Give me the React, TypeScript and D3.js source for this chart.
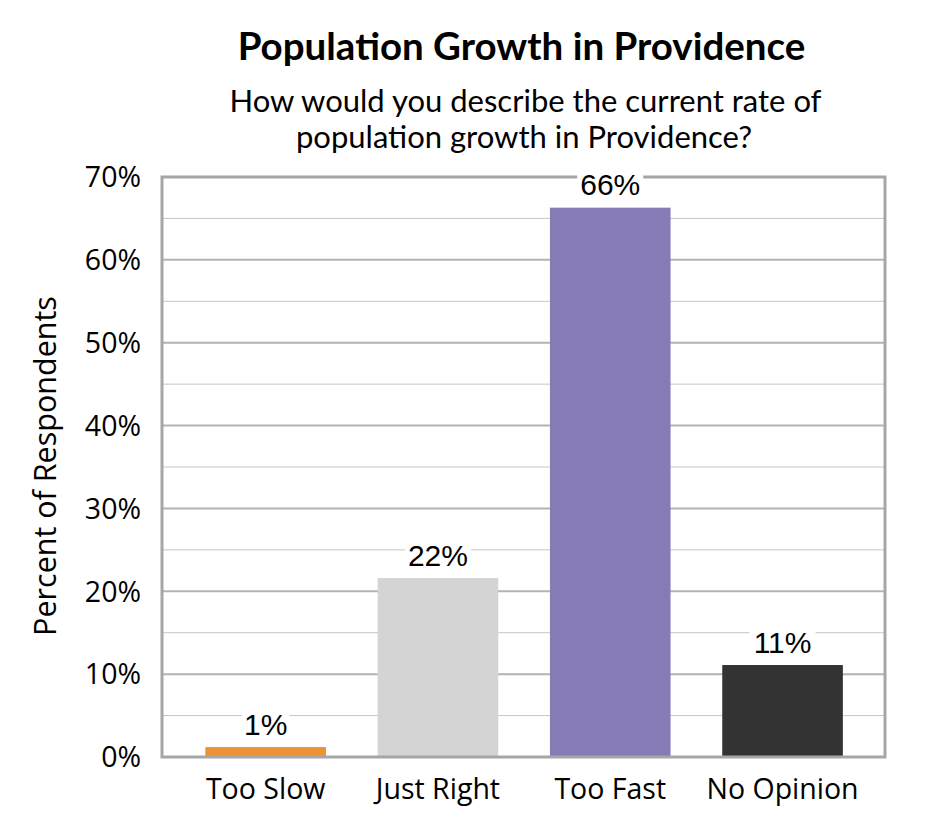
import React from "react";
import * as d3 from "d3";

const categories = ["Too Slow", "Just Right", "Too Fast", "No Opinion"];
const values = [1.2, 21.6, 66.3, 11.1];
const labels = ["1%", "22%", "66%", "11%"];
const colors = ["#ed9136", "#d4d4d4", "#877bb6", "#333333"];
const majorTicks = [0, 10, 20, 30, 40, 50, 60, 70];
const minorTicks = [5, 15, 25, 35, 45, 55, 65];

export default function App() {
  const W = 945, H = 840;
  const left = 162, right = 885, top = 177, bottom = 757;
  const y = d3.scaleLinear().domain([0, 70]).range([bottom, top]);
  const x = d3.scaleBand().domain(categories).range([179.5, 868.7]).paddingInner(0.3).paddingOuter(0.15);
  const sans = "'Open Sans', sans-serif";
  return (
    <svg width={W} height={H} style={{ position: "absolute", left: 0, top: 0, background: "#fff" }}>
      <rect x={0} y={0} width={W} height={H} fill="#fff" />
      <text x={521.5} y={60} textAnchor="middle" fontFamily="Lato, sans-serif" fontWeight="bold" fontSize={38.5} fill="#000">
        Population Growth in Providence
      </text>
      <text x={525.5} y={112} textAnchor="middle" fontFamily="Lato, sans-serif" fontSize={31} fill="#000">
        How would you describe the current rate of
      </text>
      <text x={524} y={148} textAnchor="middle" fontFamily="Lato, sans-serif" fontSize={31} fill="#000">
        population growth in Providence?
      </text>
      {minorTicks.map((t) => (
        <line key={"m" + t} x1={left} x2={right} y1={y(t)} y2={y(t)} stroke="#c6c6c6" strokeWidth={1} />
      ))}
      {majorTicks.map((t) => (
        <line key={"M" + t} x1={left} x2={right} y1={y(t)} y2={y(t)} stroke="#b3b3b3" strokeWidth={2} />
      ))}
      {categories.map((c, i) => (
        <rect key={c} x={x(c)} y={y(values[i])} width={x.bandwidth()} height={bottom - y(values[i])} fill={colors[i]} />
      ))}
      <rect x={left} y={top} width={right - left} height={bottom - top} fill="none" stroke="#a6a6a6" strokeWidth={3} />
      {majorTicks.map((t) => (
        <text key={"t" + t} x={141} y={y(t)} dy="0.36em" textAnchor="end" fontFamily={sans} fontSize={28.5} fill="#000">
          {t + "%"}
        </text>
      ))}
      {categories.map((c) => (
        <text key={"c" + c} x={(x(c) as number) + x.bandwidth() / 2} y={799} textAnchor="middle" fontFamily={sans} fontSize={28.5} fill="#000">
          {c}
        </text>
      ))}
      {categories.map((c, i) => {
        const cx = (x(c) as number) + x.bandwidth() / 2;
        const ty = y(values[i]) - 12.5;
        const w = labels[i].length * 18 + 12;
        return (
          <g key={"l" + c}>
            <rect x={cx - w / 2} y={ty - 26} width={w} height={32} fill="#fff" />
            <text x={cx} y={ty} textAnchor="middle" fontFamily="'Liberation Sans', Arial, sans-serif" fontSize={30} fill="#000">
              {labels[i]}
            </text>
          </g>
        );
      })}
      <text transform={`translate(56,466) rotate(-90)`} textAnchor="middle" fontFamily={sans} fontSize={30.5} fill="#000">
        Percent of Respondents
      </text>
    </svg>
  );
}
